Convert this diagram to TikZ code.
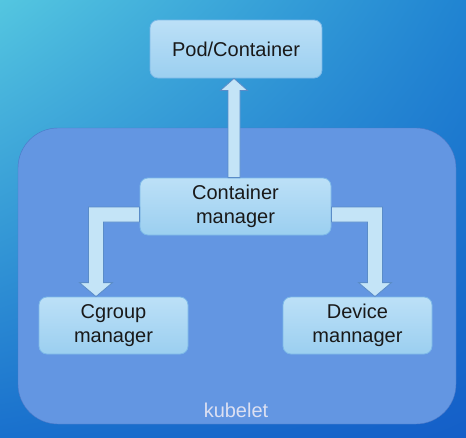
\documentclass[tikz,border=0pt]{standalone}
\usepackage{fontspec}
\setmainfont{Liberation Sans}
\usetikzlibrary{calc,shadings}

\definecolor{bgtl}{RGB}{84,198,224}
\definecolor{bgtr}{RGB}{32,132,210}
\definecolor{bgbl}{RGB}{25,112,205}
\definecolor{bgbr}{RGB}{20,95,200}
\definecolor{kubefill}{RGB}{99,150,226}
\definecolor{kubeline}{RGB}{75,120,200}
\definecolor{kubetext}{RGB}{220,224,242}
\definecolor{boxtop}{RGB}{188,224,247}
\definecolor{boxbot}{RGB}{155,207,240}
\definecolor{boxline}{RGB}{125,185,232}
\definecolor{arrowfill}{RGB}{196,228,247}
\definecolor{arrowline}{RGB}{90,140,200}

\begin{document}
\begin{tikzpicture}[x=1pt, y=-1pt,
  every node/.style={font=\fontsize{20}{24.5}\selectfont, align=center, text=black!90},
  box/.style={draw=boxline, line width=0.8pt, rounded corners=8pt, top color=boxtop, bottom color=boxbot, minimum height=57pt, inner sep=0pt},
  twoline/.style={execute at begin node={\rule{0pt}{19pt}}},
  blockarrow/.style={draw=arrowline, line width=0.8pt, fill=arrowfill}]
\useasboundingbox (0,0) rectangle (466,437);
\shade[upper left=bgtl, upper right=bgtr, lower left=bgbl, lower right=bgbr] (0,0) rectangle (466,437);

% kubelet frame
\node[draw=kubeline, fill=kubefill, rounded corners=40pt, minimum width=438pt, minimum height=296pt, inner sep=0pt] (kubelet) at (237,276) {};
\node[text=kubetext] (klabel) at (236,410) {kubelet};

% boxes
\node[box, minimum width=172pt, minimum height=58pt] (pod) at (236,49) {Pod/Container};
\node[box, twoline, minimum width=191pt] (cm) at (235.5,206.5) {Container\\manager};
\node[box, twoline, minimum width=149pt] (cg) at (113.5,325.5) {Cgroup\\manager};
\node[box, twoline, minimum width=149pt] (dm) at (357.5,325.5) {Device\\mannager};

% block arrows
\coordinate (ut) at ($(pod.south)+(-2,0)$);
\draw[blockarrow] ($(ut |- cm.north)+(-6,0)$) -- ($(ut)+(-6,12)$) -- ($(ut)+(-13.5,12)$) -- (ut)
  -- ($(ut)+(13.5,12)$) -- ($(ut)+(6,12)$) -- ($(ut |- cm.north)+(6,0)$) -- cycle;

\coordinate (lt) at ($(cg.north)+(-17.5,0)$);
\coordinate (ls) at ($(cm.west)+(0,8)$);
\draw[blockarrow] ($(ls)+(0,-7.5)$) -- ($(ls -| lt)+(-7.5,-7.5)$) -- ($(lt)+(-7.5,-14)$) -- ($(lt)+(-16.5,-14)$) -- (lt)
  -- ($(lt)+(16.5,-14)$) -- ($(lt)+(7.5,-14)$) -- ($(ls -| lt)+(7.5,7.5)$) -- ($(ls)+(0,7.5)$) -- cycle;

\coordinate (rt) at ($(dm.north)+(17.5,0)$);
\coordinate (rs) at ($(cm.east)+(0,8)$);
\draw[blockarrow] ($(rs)+(0,-7.5)$) -- ($(rs -| rt)+(7.5,-7.5)$) -- ($(rt)+(7.5,-14)$) -- ($(rt)+(16.5,-14)$) -- (rt)
  -- ($(rt)+(-16.5,-14)$) -- ($(rt)+(-7.5,-14)$) -- ($(rs -| rt)+(-7.5,7.5)$) -- ($(rs)+(0,7.5)$) -- cycle;
\end{tikzpicture}
\end{document}
